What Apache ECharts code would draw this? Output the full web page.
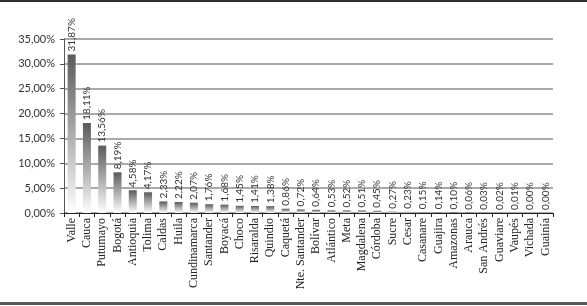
<!DOCTYPE html>
<html><head><meta charset="utf-8">
<script src="https://cdn.jsdelivr.net/npm/echarts@6/dist/echarts.min.js"></script>
<style>html,body{margin:0;padding:0;background:#fff;}#c{width:587px;height:306px;}</style>
</head><body><div id="c"></div>
<script>
var categories = ['Valle','Cauca','Putumayo','Bogotá','Antioquia','Tolima','Caldas','Huila','Cundinamarca','Santander','Boyacá','Choco','Risaralda','Quindio','Caquetá','Nte. Santander','Bolívar','Atlántico','Meta','Magdalena','Córdoba','Sucre','Cesar','Casanare','Guajira','Amazonas','Arauca','San Andrés','Guaviare','Vaupés','Vichada','Guainía'];
var values = [31.87,18.11,13.56,8.19,4.58,4.17,2.33,2.22,2.07,1.76,1.68,1.45,1.41,1.38,0.86,0.72,0.64,0.53,0.52,0.51,0.45,0.27,0.23,0.15,0.14,0.10,0.06,0.03,0.02,0.01,0.00,0.00];
var yTicks = [0,5,10,15,20,25,30,35];

function pct(v){ return v.toFixed(2).replace('.', ',') + '%'; }

var chart = echarts.init(document.getElementById('c'), null, {renderer:'canvas'});
chart.setOption({
  animation:false,
  backgroundColor:'#fff',
  grid:{left:64,right:34,top:39,bottom:93,containLabel:false},
  graphic:[
    {type:'rect',shape:{x:0,y:0,width:587,height:2},style:{fill:'#2e2e2e'}},
    {type:'rect',shape:{x:0,y:302,width:587,height:3},style:{fill:'#5a5a5a'}}
  ],
  xAxis:{
    type:'category',
    data:categories,
    axisLine:{lineStyle:{color:'#222',width:1}},
    axisTick:{show:true,length:4,lineStyle:{color:'#222'}},
    axisLabel:{rotate:90,interval:0,fontFamily:'Liberation Serif',fontSize:12,color:'#222',margin:5}
  },
  yAxis:{
    type:'value',min:0,max:35,interval:5,
    axisLine:{show:true,lineStyle:{color:'#555',width:1}},
    axisTick:{show:true,length:4,lineStyle:{color:'#555'}},
    splitLine:{lineStyle:{color:'#8e8e8e',width:1.5}},
    axisLabel:{fontFamily:'Lato',fontSize:11,color:'#333',margin:9,formatter:function(v){return pct(v);}}
  },
  series:[{
    type:'bar',
    data:values,
    barWidth:8,
    itemStyle:{color:new echarts.graphic.LinearGradient(0,0,0,1,[{offset:0,color:'#5a5a5a'},{offset:1,color:'#ffffff'}])},
    label:{show:true,position:'top',rotate:90,align:'left',verticalAlign:'middle',distance:3,
      fontFamily:'Lato',fontSize:10,color:'#333',formatter:function(p){return pct(p.value);}}
  }]
});
</script></body></html>
